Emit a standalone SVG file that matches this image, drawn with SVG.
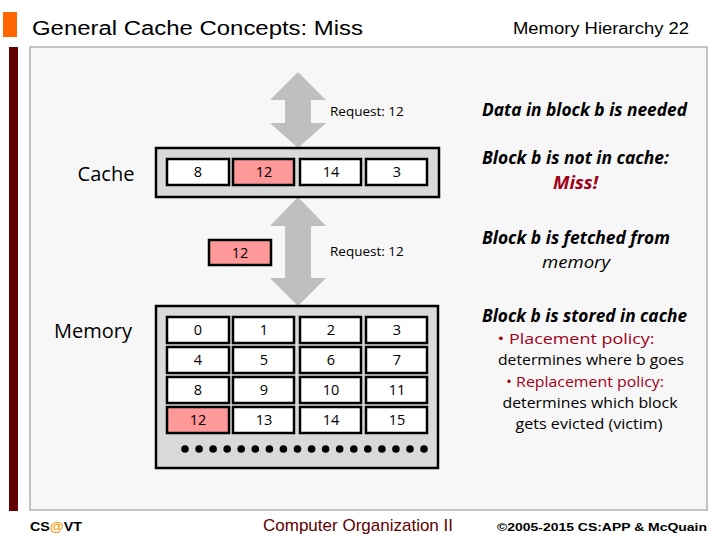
<svg xmlns="http://www.w3.org/2000/svg" width="720" height="540" viewBox="0 0 720 540">
<style>
.cal{font-family:"Open Sans","Noto Sans","Liberation Sans",sans-serif}
.cell{fill:#fff;stroke:#000;stroke-width:2.5}
.hit{fill:#ff9999;stroke:#000;stroke-width:2.5}
.box{fill:#d9d9d9;stroke:#000;stroke-width:2.5}
.ct{font-size:14.5px;text-anchor:middle;fill:#000}
.req{font-size:13.5px;fill:#000}
.arr{fill:#bfbfbf}
.bi{font-size:17px;font-weight:bold;font-style:italic;fill:#000}
.pol{font-size:14.5px;fill:#000;text-anchor:middle}
.red{fill:#a00018}
</style>
<rect width="720" height="540" fill="#fff"/>
<rect x="3" y="12" width="14" height="25" fill="#ff6600"/>
<text x="32" y="35" font-family="Liberation Sans, Arial, sans-serif" font-size="20" fill="#000" textLength="331" lengthAdjust="spacingAndGlyphs">General Cache Concepts: Miss</text>
<text x="513" y="34" font-family="Liberation Sans, Arial, sans-serif" font-size="16" fill="#000" textLength="176" lengthAdjust="spacingAndGlyphs">Memory Hierarchy 22</text>
<rect x="9" y="47" width="9" height="464" fill="#600000"/>
<rect x="30" y="47" width="677" height="463" fill="#f7f7f7" stroke="#b0b0b0" stroke-width="1.5"/>

<g id="connectors">
<polygon class="arr" points="298,72 326,100 311,100 311,123 326,123 298,148 270,123 285,123 285,100 270,100"/>
<polygon class="arr" points="298,197 326,226 311,226 311,278 326,278 298,306 270,278 285,278 285,226 270,226"/>
</g>

<g id="labels" class="cal">
<text x="106" y="181" font-size="20" text-anchor="middle" fill="#000">Cache</text>
<text x="93" y="338" font-size="20" text-anchor="middle" fill="#000">Memory</text>
<text class="req" x="330" y="116">Request: 12</text>
<text class="req" x="330" y="256">Request: 12</text>
</g>

<g id="cache">
<rect class="box" x="156" y="148" width="283" height="49"/>
<rect class="cell" x="167" y="159" width="62" height="26"/>
<rect class="hit" x="233" y="159" width="61" height="26"/>
<rect class="cell" x="300" y="159" width="61" height="26"/>
<rect class="cell" x="366" y="159" width="61" height="26"/>
<g class="cal">
<text class="ct" x="198" y="177">8</text>
<text class="ct" x="264" y="177">12</text>
<text class="ct" x="331" y="177">14</text>
<text class="ct" x="397" y="177">3</text>
</g>
</g>

<g id="fetched">
<rect class="hit" x="209" y="240" width="62" height="25"/>
<text class="ct cal" x="240" y="258">12</text>
</g>

<g id="memory">
<rect class="box" x="156" y="306" width="282" height="162"/>
<g>
<rect class="cell" x="167" y="317" width="62" height="26"/>
<rect class="cell" x="233" y="317" width="61" height="26"/>
<rect class="cell" x="300" y="317" width="61" height="26"/>
<rect class="cell" x="366" y="317" width="61" height="26"/>
<rect class="cell" x="167" y="347" width="62" height="26"/>
<rect class="cell" x="233" y="347" width="61" height="26"/>
<rect class="cell" x="300" y="347" width="61" height="26"/>
<rect class="cell" x="366" y="347" width="61" height="26"/>
<rect class="cell" x="167" y="377" width="62" height="26"/>
<rect class="cell" x="233" y="377" width="61" height="26"/>
<rect class="cell" x="300" y="377" width="61" height="26"/>
<rect class="cell" x="366" y="377" width="61" height="26"/>
<rect class="hit" x="167" y="407" width="62" height="26"/>
<rect class="cell" x="233" y="407" width="61" height="26"/>
<rect class="cell" x="300" y="407" width="61" height="26"/>
<rect class="cell" x="366" y="407" width="61" height="26"/>
</g>
<g class="cal">
<text class="ct" x="198" y="335">0</text><text class="ct" x="264" y="335">1</text><text class="ct" x="331" y="335">2</text><text class="ct" x="397" y="335">3</text>
<text class="ct" x="198" y="365">4</text><text class="ct" x="264" y="365">5</text><text class="ct" x="331" y="365">6</text><text class="ct" x="397" y="365">7</text>
<text class="ct" x="198" y="395">8</text><text class="ct" x="264" y="395">9</text><text class="ct" x="331" y="395">10</text><text class="ct" x="397" y="395">11</text>
<text class="ct" x="198" y="425">12</text><text class="ct" x="264" y="425">13</text><text class="ct" x="331" y="425">14</text><text class="ct" x="397" y="425">15</text>
</g>
<g fill="#000">
<circle cx="185" cy="449" r="3.8"/><circle cx="199.1" cy="449" r="3.8"/><circle cx="213.1" cy="449" r="3.8"/><circle cx="227.2" cy="449" r="3.8"/>
<circle cx="241.2" cy="449" r="3.8"/><circle cx="255.3" cy="449" r="3.8"/><circle cx="269.4" cy="449" r="3.8"/><circle cx="283.4" cy="449" r="3.8"/>
<circle cx="297.5" cy="449" r="3.8"/><circle cx="311.6" cy="449" r="3.8"/><circle cx="325.6" cy="449" r="3.8"/><circle cx="339.7" cy="449" r="3.8"/>
<circle cx="353.8" cy="449" r="3.8"/><circle cx="367.8" cy="449" r="3.8"/><circle cx="381.9" cy="449" r="3.8"/><circle cx="395.9" cy="449" r="3.8"/>
<circle cx="410" cy="449" r="3.8"/><circle cx="424" cy="449" r="3.8"/>
</g>
</g>

<g id="notes" class="cal">
<text class="bi" x="482" y="116" textLength="205" lengthAdjust="spacingAndGlyphs">Data in block b is needed</text>
<text class="bi" x="482" y="164" textLength="187" lengthAdjust="spacingAndGlyphs">Block b is not in cache:</text>
<text class="bi red" x="553" y="189" textLength="45" lengthAdjust="spacingAndGlyphs">Miss!</text>
<text class="bi" x="482" y="244" textLength="188" lengthAdjust="spacingAndGlyphs">Block b is fetched from</text>
<text x="542" y="268" font-size="16" font-style="italic" fill="#000" textLength="68" lengthAdjust="spacingAndGlyphs">memory</text>
<text class="bi" x="482" y="322" textLength="205" lengthAdjust="spacingAndGlyphs">Block b is stored in cache</text>
<text class="pol red" x="576" y="344" textLength="157" lengthAdjust="spacingAndGlyphs">• Placement policy:</text>
<text class="pol" x="591" y="365" textLength="186" lengthAdjust="spacingAndGlyphs">determines where b goes</text>
<text class="pol red" x="585" y="387" textLength="158" lengthAdjust="spacingAndGlyphs">• Replacement policy:</text>
<text class="pol" x="590" y="408" textLength="175" lengthAdjust="spacingAndGlyphs">determines which block</text>
<text class="pol" x="589" y="429" textLength="147" lengthAdjust="spacingAndGlyphs">gets evicted (victim)</text>
</g>

<g id="footer" font-family="Liberation Sans, Arial, sans-serif">
<text x="30" y="531" font-size="13" font-weight="bold" fill="#000" textLength="52" lengthAdjust="spacingAndGlyphs">CS<tspan fill="#ff9900">@</tspan>VT</text>
<text x="263" y="531" font-size="17" fill="#600000" textLength="190" lengthAdjust="spacingAndGlyphs">Computer Organization II</text>
<text x="497" y="531" font-size="11.5" font-weight="bold" fill="#000" textLength="210" lengthAdjust="spacingAndGlyphs">©2005-2015 CS:APP &amp; McQuain</text>
</g>
</svg>
